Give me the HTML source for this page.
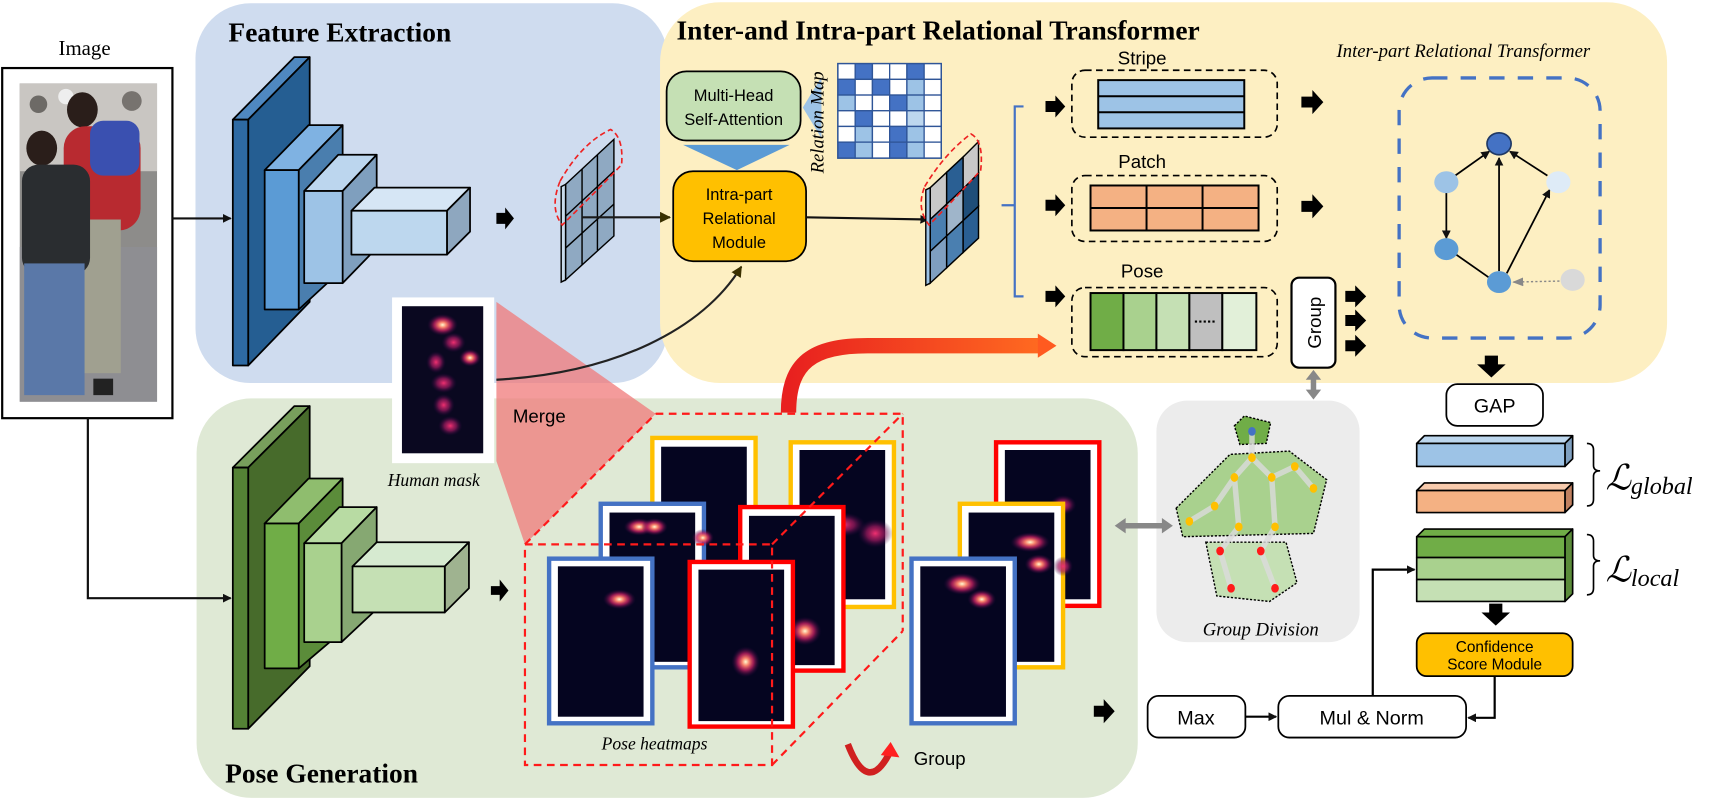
<!DOCTYPE html>
<html><head><meta charset="utf-8"><style>
html,body{margin:0;padding:0;background:#fff;width:1722px;height:810px;overflow:hidden}
svg{display:block}
.sans{font-family:"Liberation Sans",sans-serif}
.serif{font-family:"Liberation Serif",serif}
</style></head><body>
<svg width="1722" height="810" viewBox="0 0 1568 738" preserveAspectRatio="none" xmlns="http://www.w3.org/2000/svg">
<defs>
<radialGradient id="hb"><stop offset="0" stop-color="#fffbd0"/><stop offset="0.25" stop-color="#f8806a"/><stop offset="0.55" stop-color="#c02060" stop-opacity="0.8"/><stop offset="1" stop-color="#2a0540" stop-opacity="0"/></radialGradient>
<radialGradient id="hp"><stop offset="0" stop-color="#f03070"/><stop offset="0.5" stop-color="#a01a60" stop-opacity="0.7"/><stop offset="1" stop-color="#2a0540" stop-opacity="0"/></radialGradient>
<linearGradient id="ra" x1="0" y1="0" x2="1" y2="0"><stop offset="0" stop-color="#e8201f"/><stop offset="1" stop-color="#ff6a20"/></linearGradient>
<marker id="ah" markerWidth="8" markerHeight="8" refX="7" refY="4" orient="auto" markerUnits="userSpaceOnUse"><path d="M0,0 L8,4 L0,8 Z" fill="#111"/></marker>
<marker id="ahb" markerWidth="10" markerHeight="10" refX="9" refY="5" orient="auto" markerUnits="userSpaceOnUse"><path d="M0,0 L10,5 L0,10 Z" fill="#3a3000"/></marker>
<marker id="ag" markerWidth="10" markerHeight="8" refX="9" refY="4" orient="auto" markerUnits="userSpaceOnUse"><path d="M0,0 L10,4 L0,8 Z" fill="#888"/></marker>
</defs>

<rect x="178" y="3" width="430" height="346" rx="50" fill="#cfdcef"/>
<rect x="601" y="2" width="917" height="347" rx="55" fill="#fdefc2"/>
<rect x="179" y="363" width="857" height="364" rx="50" fill="#dfe9d5"/>
<rect x="1053" y="365" width="185" height="220" rx="28" fill="#ececec"/>

<text x="208" y="38" class="serif" font-size="25" font-weight="bold">Feature Extraction</text>
<text x="616" y="36" class="serif" font-size="25" font-weight="bold">Inter-and Intra-part Relational Transformer</text>
<text x="205" y="713" class="serif" font-size="25" font-weight="bold">Pose Generation</text>
<text x="1217" y="52" class="serif" font-size="17" font-style="italic">Inter-part Relational Transformer</text>

<text x="77" y="50" class="serif" font-size="19" text-anchor="middle">Image</text>
<rect x="2" y="62" width="155" height="319" fill="#fff" stroke="#000" stroke-width="2"/>
<rect x="18" y="76" width="125" height="290" fill="#8d8c8a"/>
<rect x="18" y="76" width="125" height="80" fill="#c9c6c2"/>
<circle cx="35" cy="95" r="8" fill="#6d6a66"/><circle cx="60" cy="88" r="7" fill="#eee"/><circle cx="120" cy="92" r="9" fill="#77736f"/>
<rect x="18" y="225" width="125" height="141" fill="#8e8e92"/>
<ellipse cx="75" cy="100" rx="14" ry="16" fill="#2a1e1a"/>
<rect x="58" y="115" width="70" height="95" rx="20" fill="#b82a30"/>
<rect x="82" y="110" width="45" height="50" rx="12" fill="#3a50b0"/>
<rect x="65" y="200" width="45" height="140" fill="#a0a090"/>
<ellipse cx="38" cy="135" rx="14" ry="16" fill="#2a1e1a"/>
<rect x="20" y="150" width="62" height="100" rx="15" fill="#2a2d30"/>
<rect x="22" y="240" width="55" height="120" fill="#5a78a8"/>
<rect x="85" y="345" width="18" height="15" fill="#222"/>

<line x1="157" y1="199" x2="210" y2="199" stroke="#111" stroke-width="2" marker-end="url(#ah)"/>
<polyline points="80,381 80,545 210,545" fill="none" stroke="#111" stroke-width="2" marker-end="url(#ah)"/>

<g stroke="#000" stroke-width="1.6" stroke-linejoin="round">
<polygon points="212,109 226,109 282,52 268,52" fill="#4f88c0"/>
<polygon points="226,109 282,52 282,275 226,333" fill="#255e92"/>
<rect x="212" y="109" width="14" height="224" fill="#2e6aa3"/>
<polygon points="241,155 272,155 312,114 281,114" fill="#7fb2e2"/>
<polygon points="272,155 312,114 312,245 272,282" fill="#4a7eae"/>
<rect x="241" y="155" width="31" height="127" fill="#5b9bd5"/>
<polygon points="277,174 312,174 343,141 308,141" fill="#bcd6ee"/>
<polygon points="312,174 343,141 343,226 312,258" fill="#7f9fbe"/>
<rect x="277" y="174" width="35" height="84" fill="#9dc3e6"/>
<polygon points="320,192 407,192 428,171 341,171" fill="#d6e6f5"/>
<polygon points="407,192 428,171 428,211 407,232" fill="#8ea7bf"/>
<rect x="320" y="192" width="87" height="40" fill="#bdd7ee"/>
</g>
<path d="M452,194 h8 v-5 l8,10 l-8,10 v-5 h-8z" fill="#000"/>

<g stroke="#000" stroke-width="1.6" stroke-linejoin="round">
<polygon points="212,426 226,426 282,370 268,370" fill="#789f5c"/>
<polygon points="226,426 282,370 282,607 226,664" fill="#476b2b"/>
<rect x="212" y="426" width="14" height="238" fill="#548235"/>
<polygon points="241,477 272,477 312,436 281,436" fill="#8fbd6e"/>
<polygon points="272,477 312,436 312,575 272,609" fill="#5b8c3a"/>
<rect x="241" y="477" width="31" height="132" fill="#70ad47"/>
<polygon points="277,495 311,495 343,462 309,462" fill="#b8dba3"/>
<polygon points="311,495 343,462 343,555 311,585" fill="#86a872"/>
<rect x="277" y="495" width="34" height="90" fill="#a9d18e"/>
<polygon points="321,516 405,516 427,494 343,494" fill="#d6ead0"/>
<polygon points="405,516 427,494 427,536 405,558" fill="#9fb390"/>
<rect x="321" y="516" width="84" height="42" fill="#c5e0b4"/>
</g>
<path d="M447,534 h8 v-6 l8,10 l-8,10 v-6 h-8z" fill="#000"/>

<g stroke="#000" stroke-width="1.3">
<polygon points="515,168 559,127 559,215 515,255" fill="#8fa9c2"/>
<polygon points="511,170 515,168 515,255 511,257" fill="#c8daea"/>
<line x1="530" y1="154" x2="530" y2="241"/><line x1="544" y1="141" x2="544" y2="228"/>
<line x1="515" y1="197" x2="559" y2="156"/><line x1="515" y1="226" x2="559" y2="186"/>
</g>
<path d="M510,165 Q530,130 556,118 Q568,125 566,150 Q552,165 512,205 Q500,190 510,165Z" fill="none" stroke="#e22" stroke-width="1.5" stroke-dasharray="5,3"/>
<line x1="530" y1="198" x2="610" y2="198" stroke="#1a1a1a" stroke-width="2" marker-end="url(#ahb)"/>

<rect x="607" y="65" width="122" height="63" rx="18" fill="#c5e0b4" stroke="#000" stroke-width="1.6"/>
<text x="668" y="92" class="sans" font-size="15" text-anchor="middle">Multi-Head</text>
<text x="668" y="114" class="sans" font-size="15" text-anchor="middle">Self-Attention</text>
<polygon points="622,132 719,132 671,155" fill="#5b9bd5"/>
<polygon points="731,98 748,70 748,126" fill="#9dc3e6"/>
<rect x="613" y="156" width="121" height="82" rx="18" fill="#ffc000" stroke="#000" stroke-width="1.6"/>
<text x="673" y="182" class="sans" font-size="15" text-anchor="middle">Intra-part</text>
<text x="673" y="204" class="sans" font-size="15" text-anchor="middle">Relational</text>
<text x="673" y="226" class="sans" font-size="15" text-anchor="middle">Module</text>
<text transform="translate(750,158) rotate(-90)" class="serif" font-size="17" font-style="italic">Relation Map</text>

<rect x="763" y="58" width="94" height="86" fill="#fff" stroke="#2f5597" stroke-width="1.5"/>
<g stroke="#2f5597" stroke-width="1.2">
<rect x="763" y="58" width="15.7" height="14.3" fill="#fff"/><rect x="778.7" y="58" width="15.7" height="14.3" fill="#4472c4"/><rect x="794.4" y="58" width="15.7" height="14.3" fill="#fff"/><rect x="810.1" y="58" width="15.7" height="14.3" fill="#fff"/><rect x="825.8" y="58" width="15.7" height="14.3" fill="#4472c4"/><rect x="841.5" y="58" width="15.5" height="14.3" fill="#fff"/>
<rect x="763" y="72.3" width="15.7" height="14.3" fill="#4472c4"/><rect x="778.7" y="72.3" width="15.7" height="14.3" fill="#fff"/><rect x="794.4" y="72.3" width="15.7" height="14.3" fill="#4472c4"/><rect x="810.1" y="72.3" width="15.7" height="14.3" fill="#fff"/><rect x="825.8" y="72.3" width="15.7" height="14.3" fill="#9dc3e6"/><rect x="841.5" y="72.3" width="15.5" height="14.3" fill="#fff"/>
<rect x="763" y="86.6" width="15.7" height="14.3" fill="#9dc3e6"/><rect x="778.7" y="86.6" width="15.7" height="14.3" fill="#fff"/><rect x="794.4" y="86.6" width="15.7" height="14.3" fill="#fff"/><rect x="810.1" y="86.6" width="15.7" height="14.3" fill="#4472c4"/><rect x="825.8" y="86.6" width="15.7" height="14.3" fill="#9dc3e6"/><rect x="841.5" y="86.6" width="15.5" height="14.3" fill="#fff"/>
<rect x="763" y="100.9" width="15.7" height="14.3" fill="#fff"/><rect x="778.7" y="100.9" width="15.7" height="14.3" fill="#4472c4"/><rect x="794.4" y="100.9" width="15.7" height="14.3" fill="#fff"/><rect x="810.1" y="100.9" width="15.7" height="14.3" fill="#fff"/><rect x="825.8" y="100.9" width="15.7" height="14.3" fill="#bdd7ee"/><rect x="841.5" y="100.9" width="15.5" height="14.3" fill="#fff"/>
<rect x="763" y="115.2" width="15.7" height="14.3" fill="#fff"/><rect x="778.7" y="115.2" width="15.7" height="14.3" fill="#9dc3e6"/><rect x="794.4" y="115.2" width="15.7" height="14.3" fill="#fff"/><rect x="810.1" y="115.2" width="15.7" height="14.3" fill="#4472c4"/><rect x="825.8" y="115.2" width="15.7" height="14.3" fill="#9dc3e6"/><rect x="841.5" y="115.2" width="15.5" height="14.3" fill="#fff"/>
<rect x="763" y="129.5" width="15.7" height="14.5" fill="#4472c4"/><rect x="778.7" y="129.5" width="15.7" height="14.5" fill="#9dc3e6"/><rect x="794.4" y="129.5" width="15.7" height="14.5" fill="#fff"/><rect x="810.1" y="129.5" width="15.7" height="14.5" fill="#4472c4"/><rect x="825.8" y="129.5" width="15.7" height="14.5" fill="#9dc3e6"/><rect x="841.5" y="129.5" width="15.5" height="14.5" fill="#fff"/>
</g>

<line x1="734" y1="198" x2="845" y2="200" stroke="#111" stroke-width="2" marker-end="url(#ah)"/>

<g stroke="#000" stroke-width="1.3">
<polygon points="847,171 862,157 862,186 847,200" fill="#c8c8c8"/>
<polygon points="862,157 877,143 877,172 862,186" fill="#2a5f93"/>
<polygon points="877,143 891,129 891,158 877,172" fill="#c8c8c8"/>
<polygon points="847,200 862,186 862,215 847,229" fill="#4a7fb0"/>
<polygon points="862,186 877,172 877,201 862,215" fill="#9fb5ca"/>
<polygon points="877,172 891,158 891,188 877,201" fill="#1f4e79"/>
<polygon points="847,229 862,215 862,244 847,258" fill="#7f9fc0"/>
<polygon points="862,215 877,201 877,230 862,244" fill="#4a7fb0"/>
<polygon points="877,201 891,188 891,217 877,230" fill="#2a5f93"/>
<polygon points="843,173 847,171 847,258 843,260" fill="#9dc3e6"/>
</g>
<path d="M842,170 Q860,140 884,122 Q896,128 893,155 Q880,170 846,205 Q834,190 842,170Z" fill="none" stroke="#e22" stroke-width="1.5" stroke-dasharray="5,3"/>

<path d="M932,97 H924 V270 H932 M912,187 H924" fill="none" stroke="#4472c4" stroke-width="2"/>
<g fill="#000">
<path d="M952,92 h9 v-5 l9,10 l-9,10 v-5 h-9z"/>
<path d="M952,182 h9 v-5 l9,10 l-9,10 v-5 h-9z"/>
<path d="M952,265 h9 v-5 l9,10 l-9,10 v-5 h-9z"/>
<path d="M1185,88 h10 v-6 l10,11 l-10,11 v-6 h-10z"/>
<path d="M1185,183 h10 v-6 l10,11 l-10,11 v-6 h-10z"/>
<path d="M1225,265 h9 v-5 l10,10 l-10,10 v-5 h-9z"/>
<path d="M1225,287 h9 v-5 l10,10 l-10,10 v-5 h-9z"/>
<path d="M1225,310 h9 v-5 l10,10 l-10,10 v-5 h-9z"/>
</g>

<text x="1040" y="59" class="sans" font-size="17" text-anchor="middle">Stripe</text>
<rect x="976" y="64" width="187" height="61" rx="12" fill="none" stroke="#000" stroke-width="1.5" stroke-dasharray="6,4"/>
<g stroke="#000" stroke-width="1.8">
<rect x="1000" y="73" width="133" height="44" fill="#9dc3e6"/>
<line x1="1000" y1="87.7" x2="1133" y2="87.7"/><line x1="1000" y1="102.3" x2="1133" y2="102.3"/>
</g>
<text x="1040" y="153" class="sans" font-size="17" text-anchor="middle">Patch</text>
<rect x="976" y="160" width="187" height="60" rx="12" fill="none" stroke="#000" stroke-width="1.5" stroke-dasharray="6,4"/>
<g stroke="#000" stroke-width="1.8">
<rect x="993" y="169" width="153" height="41" fill="#f4b183"/>
<line x1="993" y1="189.5" x2="1146" y2="189.5"/><line x1="1044" y1="169" x2="1044" y2="210"/><line x1="1095" y1="169" x2="1095" y2="210"/>
</g>
<text x="1040" y="253" class="sans" font-size="17" text-anchor="middle">Pose</text>
<rect x="976" y="262" width="187" height="63" rx="12" fill="none" stroke="#000" stroke-width="1.5" stroke-dasharray="6,4"/>
<g stroke="#000" stroke-width="1.8">
<rect x="993" y="267" width="30" height="52" fill="#70ad47"/>
<rect x="1023" y="267" width="30" height="52" fill="#a9d18e"/>
<rect x="1053" y="267" width="30" height="52" fill="#c5e0b4"/>
<rect x="1083" y="267" width="30" height="52" fill="#bfbfbf"/>
<rect x="1113" y="267" width="31" height="52" fill="#e2f0d9"/>
</g>
<line x1="1088" y1="293" x2="1108" y2="293" stroke="#000" stroke-width="2" stroke-dasharray="2,2"/>

<rect x="1176" y="253" width="40" height="82" rx="7" fill="#fff" stroke="#000" stroke-width="2"/>
<text transform="translate(1203,294) rotate(-90)" class="sans" font-size="17" text-anchor="middle">Group</text>

<rect x="1274" y="71" width="183" height="237" rx="30" fill="none" stroke="#4472c4" stroke-width="3" stroke-dasharray="14,12"/>
<g stroke="#000" stroke-width="1.6" fill="none">
<line x1="1325" y1="160" x2="1356" y2="138" marker-end="url(#ah)"/>
<line x1="1409" y1="160" x2="1375" y2="138" marker-end="url(#ah)"/>
<line x1="1365" y1="247" x2="1365" y2="144" marker-end="url(#ah)"/>
<line x1="1317" y1="174" x2="1317" y2="217" marker-end="url(#ah)"/>
<line x1="1326" y1="232" x2="1356" y2="253"/>
<line x1="1372" y1="249" x2="1411" y2="173" marker-end="url(#ah)"/>
</g>
<line x1="1424" y1="256" x2="1378" y2="257" stroke="#888" stroke-width="1.3" stroke-dasharray="2,2" marker-end="url(#ag)"/>
<ellipse cx="1365" cy="131" rx="11" ry="10" fill="#4472c4" stroke="#1f3864" stroke-width="1.5"/>
<ellipse cx="1317" cy="166" rx="11" ry="10" fill="#9dc3e6"/>
<ellipse cx="1419" cy="166" rx="11" ry="10" fill="#deebf7"/>
<ellipse cx="1317" cy="227" rx="11" ry="10" fill="#5b9bd5"/>
<ellipse cx="1365" cy="257" rx="11" ry="10" fill="#5b9bd5"/>
<ellipse cx="1432" cy="255" rx="11" ry="10" fill="#d9d9d9"/>

<path d="M1352,324 h12 v8 h7 l-13,12 l-13,-12 h7z" fill="#000"/>
<rect x="1317" y="350" width="88" height="38" rx="10" fill="#fff" stroke="#000" stroke-width="1.6"/>
<text x="1361" y="376" class="sans" font-size="18" text-anchor="middle">GAP</text>

<g stroke="#000" stroke-width="1.5" stroke-linejoin="round">
<polygon points="1290,404 1297,397 1432,397 1425,404" fill="#bdd7ee"/>
<polygon points="1425,404 1432,397 1432,418 1425,425" fill="#7fa0c0"/>
<rect x="1290" y="404" width="135" height="21" fill="#9dc3e6"/>
<polygon points="1290,447 1297,440 1432,440 1425,447" fill="#f8cbad"/>
<polygon points="1425,447 1432,440 1432,460 1425,467" fill="#c08060"/>
<rect x="1290" y="447" width="135" height="20" fill="#f4b183"/>
<polygon points="1290,489 1297,482 1432,482 1425,489" fill="#70ad47"/>
<polygon points="1425,489 1432,482 1432,541 1425,548" fill="#5b8c3a"/>
<rect x="1290" y="489" width="135" height="19" fill="#70ad47"/>
<rect x="1290" y="508" width="135" height="20" fill="#a9d18e"/>
<rect x="1290" y="528" width="135" height="20" fill="#c5e0b4"/>
</g>
<path d="M1445,404 q6,0 6,6 v14 q0,5 6,5 q-6,0 -6,5 v21 q0,6 -6,6" fill="none" stroke="#000" stroke-width="1.5"/>
<path d="M1445,487 q6,0 6,6 v13 q0,5 6,5 q-6,0 -6,5 v20 q0,6 -6,6" fill="none" stroke="#000" stroke-width="1.5"/>
<text x="1462" y="446" class="serif" font-size="32" font-style="italic">ℒ<tspan font-size="22" dy="4">global</tspan></text>
<text x="1462" y="530" class="serif" font-size="32" font-style="italic">ℒ<tspan font-size="22" dy="4">local</tspan></text>

<path d="M1356,550 h12 v8 h7 l-13,12 l-13,-12 h7z" fill="#000"/>
<rect x="1290" y="577" width="142" height="39" rx="9" fill="#ffc000" stroke="#000" stroke-width="1.6"/>
<text x="1361" y="594" class="sans" font-size="14" text-anchor="middle">Confidence</text>
<text x="1361" y="610" class="sans" font-size="14" text-anchor="middle">Score Module</text>

<rect x="1045" y="634" width="89" height="38" rx="10" fill="#fff" stroke="#000" stroke-width="1.6"/>
<text x="1089" y="660" class="sans" font-size="18" text-anchor="middle">Max</text>
<rect x="1164" y="634" width="171" height="38" rx="10" fill="#fff" stroke="#000" stroke-width="1.6"/>
<text x="1249" y="660" class="sans" font-size="18" text-anchor="middle">Mul &amp; Norm</text>
<line x1="1134" y1="653" x2="1162" y2="653" stroke="#000" stroke-width="2" marker-end="url(#ah)"/>
<polyline points="1250,634 1250,519 1288,519" fill="none" stroke="#000" stroke-width="2" marker-end="url(#ah)"/>
<polyline points="1361,616 1361,654 1337,654" fill="none" stroke="#000" stroke-width="2" marker-end="url(#ah)"/>
<path d="M996,643 h9 v-6 l10,11 l-10,11 v-6 h-9z" fill="#000"/>

<polygon points="1071,463 1120,414 1174,411 1208,437 1196,486 1077,489" fill="#a9d18e" stroke="#000" stroke-width="1.3" stroke-dasharray="2,1.5"/>
<polygon points="1098,494 1171,494 1181,531 1156,548 1108,543" fill="#c5e0b4" stroke="#000" stroke-width="1.3" stroke-dasharray="2,1.5"/>
<polygon points="1124,388 1133,379 1157,385 1153,404 1129,405" fill="#70ad47" stroke="#000" stroke-width="1.3" stroke-dasharray="2,1.5"/>
<g stroke="#dcdcdc" stroke-width="5" stroke-linecap="round" opacity="0.8" fill="none">
<polyline points="1140,393 1140,417 1124,435 1128,480 1111,502 1121,536"/>
<polyline points="1140,417 1158,435 1161,480 1148,502 1161,536"/>
<polyline points="1124,435 1106,461 1083,475"/>
<polyline points="1158,435 1179,425 1196,445"/>
</g>
<g fill="#ffc000">
<ellipse cx="1140" cy="417" rx="3.5" ry="4"/><ellipse cx="1124" cy="435" rx="3.5" ry="4"/><ellipse cx="1158" cy="435" rx="3.5" ry="4"/><ellipse cx="1179" cy="425" rx="3.5" ry="4"/><ellipse cx="1196" cy="445" rx="3.5" ry="4"/><ellipse cx="1106" cy="461" rx="3.5" ry="4"/><ellipse cx="1083" cy="475" rx="3.5" ry="4"/><ellipse cx="1128" cy="480" rx="3.5" ry="4"/><ellipse cx="1161" cy="480" rx="3.5" ry="4"/>
</g>
<g fill="#ff1a1a">
<ellipse cx="1111" cy="502" rx="3.5" ry="4"/><ellipse cx="1148" cy="502" rx="3.5" ry="4"/><ellipse cx="1121" cy="536" rx="3.5" ry="4"/><ellipse cx="1161" cy="536" rx="3.5" ry="4"/>
</g>
<ellipse cx="1140" cy="393" rx="3.5" ry="4" fill="#4472c4"/>
<text x="1148" y="579" class="serif" font-size="17" font-style="italic" text-anchor="middle">Group Division</text>
<line x1="1196" y1="343" x2="1196" y2="358" stroke="#888" stroke-width="5"/>
<path d="M1189,346 l7,-9 l7,9z M1189,355 l7,9 l7,-9z" fill="#888"/>
<line x1="1022" y1="479" x2="1062" y2="479" stroke="#888" stroke-width="5"/>
<path d="M1025,472 l-10,7 l10,7z M1058,472 l10,7 l-10,7z" fill="#888"/>

<polygon points="452,275 597,377 478,496 452,420" fill="#f07a7a" opacity="0.75"/>
<rect x="357" y="271" width="93" height="151" fill="#fff"/>
<rect x="366" y="279" width="74" height="134" fill="#0a0820"/>
<ellipse cx="403" cy="296" rx="14" ry="10" fill="url(#hb)"/>
<ellipse cx="413" cy="312" rx="11" ry="9" fill="url(#hp)"/>
<ellipse cx="397" cy="330" rx="9" ry="10" fill="url(#hp)"/>
<ellipse cx="428" cy="326" rx="10" ry="8" fill="url(#hb)"/>
<ellipse cx="404" cy="349" rx="12" ry="9" fill="url(#hp)"/>
<ellipse cx="404" cy="369" rx="10" ry="10" fill="url(#hp)"/>
<ellipse cx="410" cy="388" rx="11" ry="9" fill="url(#hp)"/>
<text x="467" y="385" class="sans" font-size="17">Merge</text>
<text x="395" y="443" class="serif" font-size="16" font-style="italic" text-anchor="middle">Human mask</text>
<path d="M452,346 C560,340 640,300 675,243" fill="none" stroke="#222" stroke-width="2" marker-end="url(#ahb)"/>

<g>
<rect x="594" y="399" width="94" height="160" fill="#fff" stroke="#ffc000" stroke-width="4"/><rect x="602" y="407" width="78" height="150" fill="#050520"/>
<rect x="720" y="403" width="94" height="150" fill="#fff" stroke="#ffc000" stroke-width="4"/><rect x="728" y="410" width="78" height="136" fill="#050520"/>
<ellipse cx="768" cy="478" rx="20" ry="11" fill="url(#hp)"/><ellipse cx="797" cy="486" rx="16" ry="13" fill="url(#hp)"/><ellipse cx="752" cy="476" rx="12" ry="9" fill="url(#hp)"/>
<rect x="547" y="459" width="94" height="149" fill="#fff" stroke="#4472c4" stroke-width="4"/><rect x="555" y="467" width="78" height="136" fill="#050520"/>
<ellipse cx="582" cy="480" rx="14" ry="8" fill="url(#hb)"/><ellipse cx="596" cy="480" rx="12" ry="8" fill="url(#hb)"/><ellipse cx="640" cy="490" rx="10" ry="8" fill="url(#hb)"/>
<rect x="674" y="462" width="94" height="149" fill="#fff" stroke="#ff0000" stroke-width="4"/><rect x="682" y="470" width="78" height="136" fill="#050520"/>
<ellipse cx="733" cy="575" rx="15" ry="13" fill="url(#hb)"/>
<rect x="500" y="509" width="94" height="150" fill="#fff" stroke="#4472c4" stroke-width="4"/><rect x="508" y="516" width="78" height="137" fill="#050520"/>
<ellipse cx="564" cy="546" rx="15" ry="9" fill="url(#hb)"/>
<rect x="628" y="512" width="94" height="150" fill="#fff" stroke="#ff0000" stroke-width="4"/><rect x="636" y="519" width="78" height="138" fill="#050520"/>
<ellipse cx="679" cy="603" rx="13" ry="14" fill="url(#hb)"/>
<rect x="907" y="403" width="94" height="149" fill="#fff" stroke="#ff0000" stroke-width="4"/><rect x="915" y="410" width="78" height="136" fill="#050520"/>
<ellipse cx="968" cy="460" rx="12" ry="9" fill="url(#hp)"/>
<rect x="874" y="459" width="94" height="149" fill="#fff" stroke="#ffc000" stroke-width="4"/><rect x="882" y="467" width="78" height="136" fill="#050520"/>
<ellipse cx="938" cy="494" rx="18" ry="9" fill="url(#hb)"/><ellipse cx="946" cy="514" rx="13" ry="9" fill="url(#hb)"/><ellipse cx="968" cy="516" rx="9" ry="9" fill="url(#hp)"/>
<rect x="830" y="509" width="94" height="150" fill="#fff" stroke="#4472c4" stroke-width="4"/><rect x="838" y="516" width="78" height="137" fill="#050520"/>
<ellipse cx="876" cy="532" rx="17" ry="10" fill="url(#hb)"/><ellipse cx="894" cy="546" rx="13" ry="9" fill="url(#hb)"/>
</g>
<g fill="none" stroke="#ff1a1a" stroke-width="2" stroke-dasharray="7,5">
<rect x="478" y="496" width="225" height="201"/>
<polyline points="597,377 822,377 822,575"/>
<line x1="478" y1="496" x2="597" y2="377"/>
<line x1="703" y1="496" x2="822" y2="377"/>
<line x1="703" y1="697" x2="822" y2="575"/>
</g>
<text x="596" y="683" class="serif" font-size="16" font-style="italic" text-anchor="middle">Pose heatmaps</text>
<path d="M772,678 Q790,725 810,686" fill="none" stroke="#d02020" stroke-width="6"/>
<path d="M802,688 l9,-12 l8,14z" fill="#ff2020"/>
<text x="832" y="697" class="sans" font-size="17">Group</text>

<path d="M718,376 C718,330 740,315 790,315 L948,315" fill="none" stroke="url(#ra)" stroke-width="14"/>
<path d="M945,304 L962,315 L945,326z" fill="#ff5a20"/>
</svg>
</body></html>
